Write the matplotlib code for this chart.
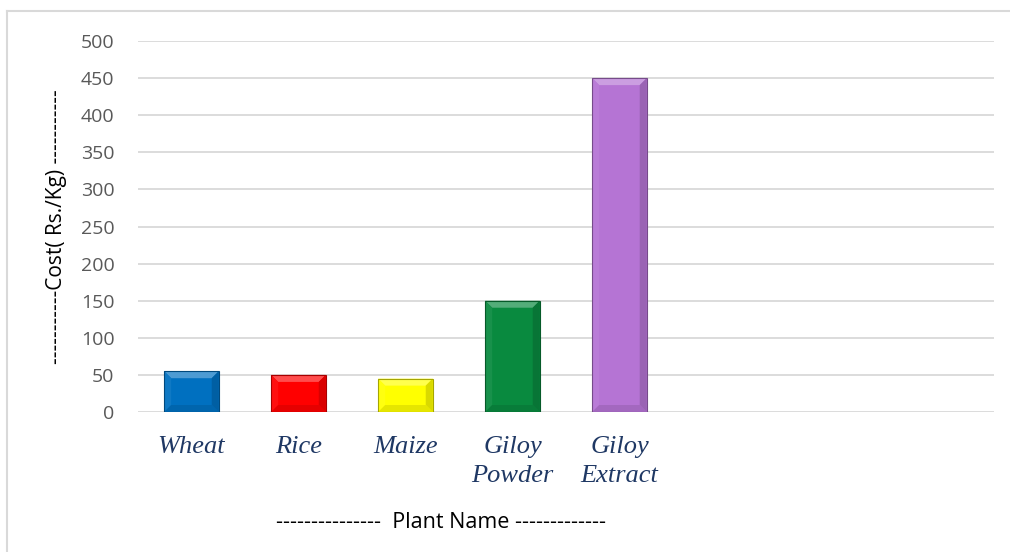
import numpy as np
import matplotlib.pyplot as plt
from matplotlib.patches import Polygon
from matplotlib.lines import Line2D
from matplotlib.colors import to_rgb

# ---- data
plants = ['Wheat', 'Rice', 'Maize', 'Giloy\nPowder', 'Giloy\nExtract']
cost = [55, 50, 45, 150, 450]
colors = ['#0070C0', '#FF0000', '#FFFF00', '#098A3F', '#B574D4']
n_slots = 8  # category axis keeps 3 empty slots on the right
yticks = list(range(0, 501, 50))


def shade(c, f):
    # f > 0 -> towards white, f < 0 -> towards black
    r = np.array(to_rgb(c))
    if f > 0:
        return tuple(r + (1 - r) * f)
    return tuple(r * (1 + f))


def bevel(ax, bar, c, bx, by):
    x0 = bar.get_x()
    x1 = x0 + bar.get_width()
    h = bar.get_height()
    faces = [
        ([(x0, h), (x1, h), (x1 - bx, h - by), (x0 + bx, h - by)], shade(c, 0.3)),
        ([(x0, 0), (x0, h), (x0 + bx, h - by), (x0 + bx, by)], shade(c, 0.06)),
        ([(x1, 0), (x1, h), (x1 - bx, h - by), (x1 - bx, by)], shade(c, -0.15)),
        ([(x0, 0), (x1, 0), (x1 - bx, by), (x0 + bx, by)], shade(c, -0.1)),
    ]
    for pts, fc in faces:
        ax.add_patch(Polygon(pts, closed=True, fc=fc, ec='none', zorder=3))
    ax.add_patch(Polygon([(x0, 0), (x0, h), (x1, h), (x1, 0)], closed=True,
                         fc='none', ec=shade(c, -0.35), lw=0.8, zorder=4))


fig = plt.figure(figsize=(10.1, 5.52), dpi=100)
ax = fig.add_axes([0.1366, 0.2536, 0.8475, 0.6721])

x = np.arange(len(plants))
bars = ax.bar(x, cost, width=0.51, color=colors, zorder=2)

# bevel size ~7 px
bx = 7 / (0.8475 * 1010) * n_slots
by = 7 / (0.6721 * 552) * 500
for b, c in zip(bars, colors):
    bevel(ax, b, c, bx, by)

ax.set_xlim(-0.5, n_slots - 0.5)
ax.set_ylim(0, 500)
ax.set_yticks(yticks)
ax.set_yticklabels([str(v) for v in yticks], family='Open Sans', fontsize=14, color='#595959')
ax.set_xticks(x)
ax.set_xticklabels(plants, family='Liberation Serif', style='italic', fontsize=19,
                   color='#1F3864', linespacing=1.45)
ax.tick_params(axis='y', length=0, pad=17)
ax.tick_params(axis='x', length=0, pad=17)
ax.grid(axis='y', color='#D9D9D9', lw=1.3, zorder=0)
ax.set_axisbelow(True)
for s in ax.spines.values():
    s.set_visible(False)

fig.text(0.056, 0.59, '-----------Cost( Rs./Kg) -----------', rotation=90,
         ha='center', va='center', family='Open Sans', fontsize=15, color='black')
fig.text(0.437, 0.054, '---------------  Plant Name -------------',
         ha='center', va='center', family='Open Sans', fontsize=15.5, color='black')

# chart frame
fig.add_artist(Line2D([0.007, 1.0], [0.98, 0.98], color='#D9D9D9', lw=1.5))
fig.add_artist(Line2D([0.007, 0.007], [0.0, 0.98], color='#D9D9D9', lw=1.5))

fig.savefig('out.png', dpi=100)
